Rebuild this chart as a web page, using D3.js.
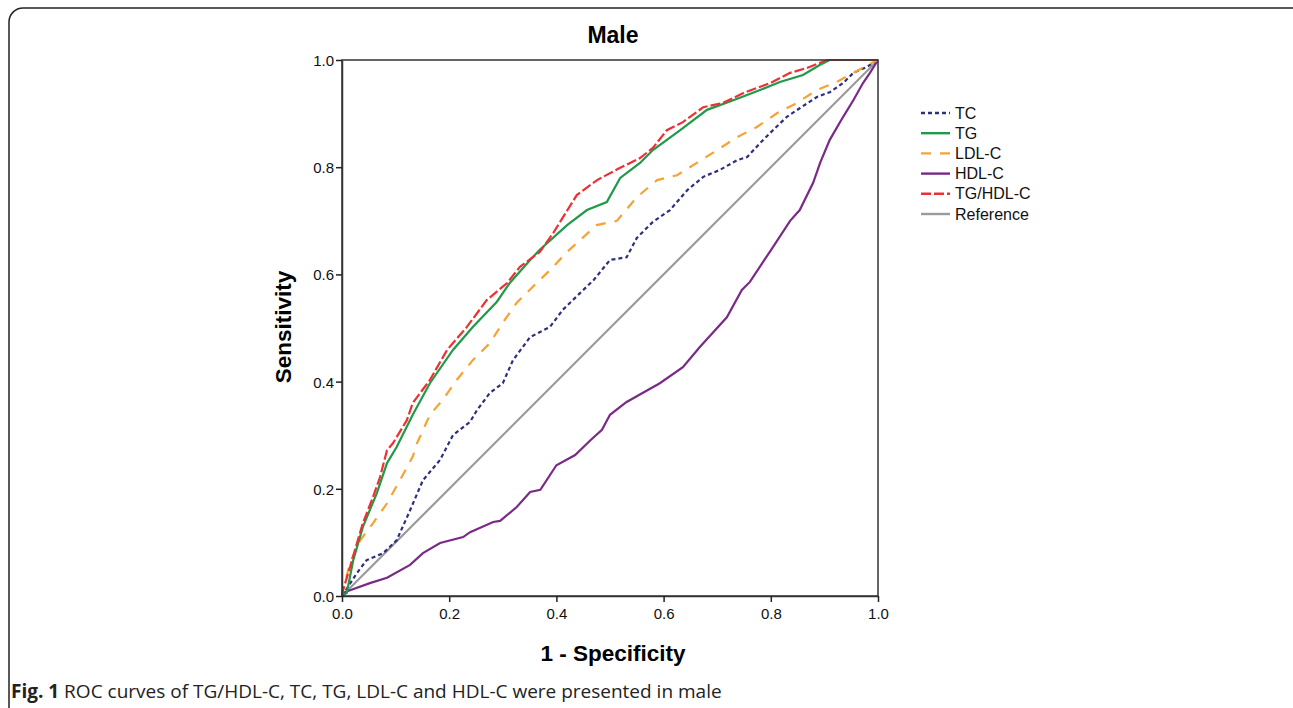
<!DOCTYPE html>
<html lang="en">
<head>
<meta charset="UTF-8">
<title>ROC curves - Male</title>
<style>
  body { margin: 0; background: #fff; }
  svg text { font-family: "Liberation Sans", Arial, sans-serif; }
  .caption { font-family: "Open Sans", "Noto Sans", sans-serif; }
</style>
</head>
<body>
<div id="chart"></div>
<script src="https://d3js.org/d3.v7.min.js"></script>
<script>
// ROC points: [1 - specificity, sensitivity]
var tcPoints = [[0,0],[.028,.043],[.046,.067],[.077,.08],[.102,.104],[.127,.16],[.151,.216],[.183,.254],[.207,.30],[.239,.325],[.252,.347],[.276,.379],[.300,.397],[.319,.44],[.351,.483],[.388,.502],[.412,.534],[.444,.565],[.47,.59],[.5,.627],[.531,.632],[.55,.668],[.58,.698],[.612,.72],[.644,.757],[.674,.782],[.705,.795],[.737,.813],[.756,.819],[.78,.845],[.804,.869],[.830,.894],[.854,.910],[.886,.931],[.910,.940],[.935,.957],[.954,.976],[.979,.987],[1,1]];
var tgPoints = [[0,0],[.009,.006],[.021,.067],[.039,.129],[.065,.192],[.084,.248],[.102,.278],[.132,.338],[.164,.397],[.207,.459],[.244,.502],[.289,.549],[.313,.584],[.351,.627],[.369,.646],[.42,.692],[.457,.72],[.494,.735],[.519,.78],[.556,.808],[.58,.832],[.631,.869],[.681,.907],[.73,.925],[.78,.944],[.817,.959],[.86,.972],[.892,.991],[.91,1],[1,1]];
var ldlPoints = [[0,0],[.002,.011],[.015,.062],[.034,.104],[.058,.136],[.084,.173],[.108,.216],[.132,.26],[.14,.285],[.164,.338],[.188,.366],[.214,.403],[.244,.44],[.276,.472],[.300,.51],[.326,.547],[.356,.577],[.388,.608],[.42,.642],[.475,.692],[.513,.70],[.55,.744],[.588,.776],[.625,.785],[.662,.808],[.7,.832],[.737,.856],[.774,.875],[.812,.901],[.849,.920],[.886,.944],[.923,.959],[.954,.976],[.991,.996],[1,1]];
var hdlPoints = [[0,0],[.002,.006],[.052,.024],[.084,.034],[.127,.058],[.151,.08],[.183,.099],[.226,.11],[.239,.119],[.282,.138],[.295,.140],[.326,.166],[.351,.194],[.37,.198],[.40,.244],[.435,.263],[.463,.29],[.485,.31],[.5,.338],[.531,.362],[.593,.397],[.636,.427],[.668,.465],[.718,.52],[.746,.571],[.761,.586],[.8,.645],[.836,.70],[.854,.72],[.879,.771],[.892,.808],[.91,.851],[.935,.894],[.954,.925],[.972,.957],[.985,.976],[1,1]];
var ratioPoints = [[0,0],[.002,.011],[.015,.054],[.028,.099],[.039,.136],[.058,.185],[.071,.222],[.084,.272],[.095,.285],[.121,.328],[.132,.36],[.164,.403],[.196,.459],[.233,.502],[.27,.552],[.308,.584],[.332,.614],[.369,.642],[.394,.677],[.438,.748],[.476,.776],[.519,.799],[.556,.817],[.58,.836],[.606,.869],[.636,.884],[.674,.912],[.711,.92],[.748,.938],[.799,.957],[.836,.976],[.867,.985],[.905,1],[1,1]];
var refPoints = [[0,0],[1,1]];

var seriesNames = ["TC", "TG", "LDL-C", "HDL-C", "TG/HDL-C", "Reference"];
var tickValues = [0, 0.2, 0.4, 0.6, 0.8, 1.0];

var series = [
  {name: "TC", pts: tcPoints, color: "#2e2f7f", dash: "4,3"},
  {name: "TG", pts: tgPoints, color: "#1f9a48", dash: null},
  {name: "LDL-C", pts: ldlPoints, color: "#f7a233", dash: "10,9"},
  {name: "HDL-C", pts: hdlPoints, color: "#7a2a86", dash: null},
  {name: "TG/HDL-C", pts: ratioPoints, color: "#ee3035", dash: "10,3"},
  {name: "Reference", pts: refPoints, color: "#9b9b9b", dash: null}
];
var drawOrder = ["Reference", "HDL-C", "TC", "LDL-C", "TG", "TG/HDL-C"];

var W = 1293, H = 708;
var svg = d3.select("#chart").append("svg")
  .attr("width", W).attr("height", H);

// rounded panel border
svg.append("rect")
  .attr("x", 9).attr("y", 8)
  .attr("width", 1300).attr("height", 730)
  .attr("rx", 14)
  .attr("fill", "none")
  .attr("stroke", "#222").attr("stroke-width", 1.5);

var x = d3.scaleLinear().domain([0, 1]).range([342, 878]);
var y = d3.scaleLinear().domain([0, 1]).range([596, 60]);

var line = d3.line()
  .x(function(d) { return x(d[0]); })
  .y(function(d) { return y(d[1]); });

drawOrder.forEach(function(n) {
  var s = series.find(function(d) { return d.name === n; });
  svg.append("path")
    .datum(s.pts)
    .attr("fill", "none")
    .attr("stroke", s.color)
    .attr("stroke-width", 2.2)
    .attr("stroke-dasharray", s.dash)
    .attr("d", line);
});

// frame
svg.append("rect")
  .attr("x", x(0)).attr("y", y(1))
  .attr("width", x(1) - x(0)).attr("height", y(0) - y(1))
  .attr("fill", "none")
  .attr("stroke", "#333").attr("stroke-width", 1.5);

var fmt = d3.format(".1f");
var yAxis = svg.append("g")
  .attr("transform", "translate(" + x(0) + ",0)")
  .call(d3.axisLeft(y).tickValues(tickValues).tickFormat(fmt).tickSize(6).tickSizeOuter(0));
var xAxis = svg.append("g")
  .attr("transform", "translate(0," + y(0) + ")")
  .call(d3.axisBottom(x).tickValues(tickValues).tickFormat(fmt).tickSize(6).tickSizeOuter(0));

[yAxis, xAxis].forEach(function(g) {
  g.select(".domain").attr("stroke", "#333").attr("stroke-width", 1.5);
  g.selectAll(".tick line").attr("stroke", "#222").attr("stroke-width", 1.5);
  g.selectAll(".tick text")
    .attr("font-family", "Liberation Sans, Arial, sans-serif")
    .attr("font-size", 15).attr("fill", "#111");
});
yAxis.selectAll(".tick text").attr("x", -8).attr("dy", "0.36em");
xAxis.selectAll(".tick text").attr("y", 12);

// titles
svg.append("text")
  .attr("x", 613).attr("y", 43)
  .attr("text-anchor", "middle")
  .attr("font-size", 23).attr("font-weight", "bold")
  .text("Male");
svg.append("text")
  .attr("x", 613).attr("y", 661)
  .attr("text-anchor", "middle")
  .attr("font-size", 22.5).attr("font-weight", "bold")
  .text("1 - Specificity");
svg.append("text")
  .attr("transform", "translate(291,327) rotate(-90)")
  .attr("text-anchor", "middle")
  .attr("font-size", 22.5).attr("font-weight", "bold")
  .text("Sensitivity");

// legend
var legend = svg.append("g").attr("transform", "translate(921,113)");
seriesNames.forEach(function(n, i) {
  var s = series.find(function(d) { return d.name === n; });
  var row = legend.append("g").attr("transform", "translate(0," + (i * 20.2) + ")");
  row.append("line")
    .attr("x1", 0).attr("x2", 29).attr("y1", 0).attr("y2", 0)
    .attr("stroke", s.color).attr("stroke-width", 2.4)
    .attr("stroke-dasharray", s.dash);
  row.append("text")
    .attr("x", 34).attr("y", 0).attr("dy", "0.35em")
    .attr("font-size", 16).attr("fill", "#111")
    .text(n);
});

// caption
var cap = svg.append("text")
  .attr("class", "caption")
  .attr("x", 11).attr("y", 698)
  .attr("font-size", 19).attr("fill", "#222");
cap.append("tspan").attr("font-weight", "bold").text("Fig. 1");
cap.append("tspan").text(" ROC curves of TG/HDL-C, TC, TG, LDL-C and HDL-C were presented in male");
</script>
</body>
</html>
